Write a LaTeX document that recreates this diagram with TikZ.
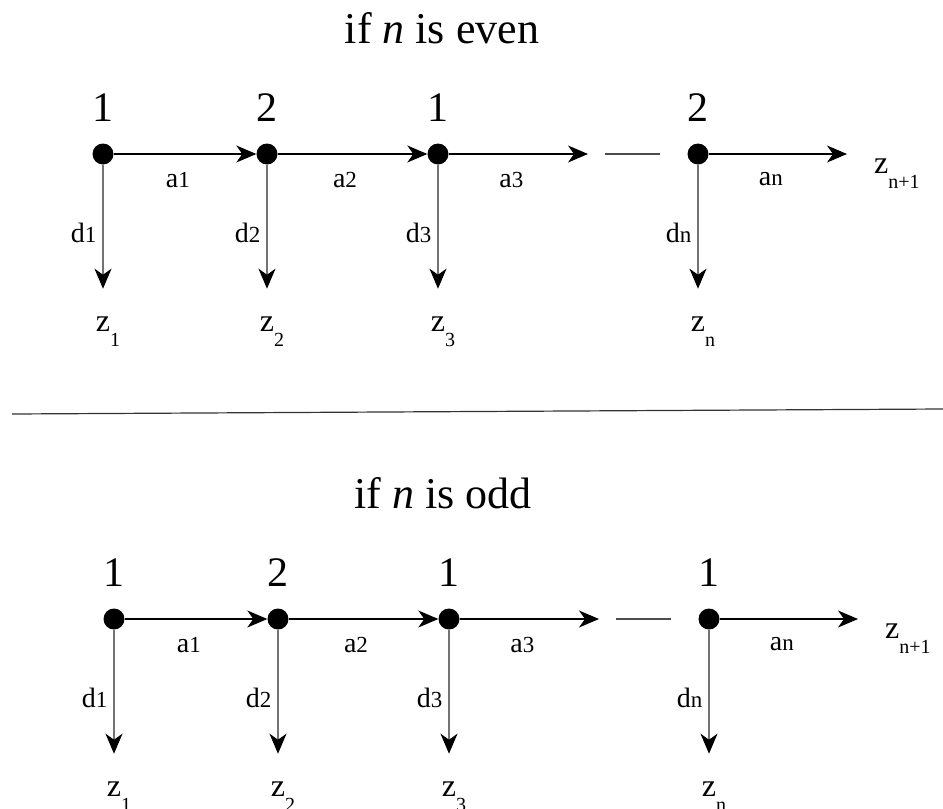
\documentclass[tikz,border=0pt]{standalone}
\usepackage{fontspec}
\setmainfont{Liberation Serif}
\usetikzlibrary{positioning, quotes, arrows.meta}
\newcommand{\idx}[1]{{\fontsize{23}{23}\selectfont #1}}
\newcommand{\zsub}[1]{z\rlap{\raisebox{-15pt}{\fontsize{20}{20}\selectfont #1}}}
\tikzset{
  x = 1pt, y = -1pt,
  > = {Stealth[length = 20pt, width = 17pt, inset = 6pt]},
  every edge quotes/.style = {inner sep = 0pt, font = \fontsize{28}{28}\selectfont},
  state/.style = {circle, fill, inner sep = 0pt, minimum size = 21pt},
  player/.style = {inner sep = 0pt, font = \fontsize{42}{42}\selectfont},
  heading/.style = {inner sep = 0pt, anchor = base, font = \fontsize{44}{44}\selectfont},
  outcome/.style = {inner sep = 0pt, font = \fontsize{32}{32}\selectfont},
  move/.style = {->, line width = 1.1pt},
  quit/.style = {-{Stealth[length = 20pt, width = 17pt, inset = 6pt, color = black]},
    draw = black!55, line width = 1.1pt, shorten > = 28pt},
  under/.style = {below = 18pt, pos = 0.45},   % label under a move
  beside/.style = {left = 6pt, pos = 0.45},    % label left of a stop
  ellipsis/.style = {draw = black!70, line width = 1.1pt},
  rule/.style = {draw = black!80, line width = 1.2pt}
}

\begin{document}
\begin{tikzpicture}
\useasboundingbox (0,0) rectangle (943,809);

\foreach \parity/\last/\row/\dx/\dy/\tx in {even/2/1/0/0/442, odd/1/2/11/465/432} {
\begin{scope}[shift = {(\dx, \dy)}]

  %% Heading
  \node [heading] (head\row) at (\tx, 43) {if \textit{n} is \parity};

  %% Decision points
  \foreach \x/\p [count = \i] in {103/1, 267/2, 438/1, 698/\last} {
    \node [state] (v\row\i) at (\x, 154) {};
    \node [player] (pl\row\i) [above = 22pt of v\row\i] {\p};
  }

  %% Stops
  \foreach \s [count = \i] in {1, 2, 3, n} {
    \node [outcome] (z\row\i) [below = 152pt of v\row\i] {\zsub{\s}};
    \path [quit] (v\row\i) edge ["d\idx{\s}" beside] (z\row\i);
  }

  %% Moves
  \foreach \i/\j in {1/2, 2/3}
    \path [move] (v\row\i) edge ["a\idx{\i}" under] (v\row\j);
  \coordinate (tip\row) at (588, 154);
  \path [move] (v\row3) edge ["a\idx{3}" under] (tip\row);

  \coordinate (gapl\row) at (605, 154);
  \coordinate (gapr\row) at (660, 154);
  \draw [ellipsis] (gapl\row) -- (gapr\row);

  \coordinate (end\row) at (847, 154);
  \path [move] (v\row4) edge ["a\idx{n}" under] (end\row);
  \node [outcome, anchor = north west] (zend\row) at (874, 159) {\zsub{n+1}};

\end{scope}
}

%% Separator
\coordinate (sepl) at (12, 414);
\coordinate (sepr) at (943, 409);
\draw [rule] (sepl) -- (sepr);

\end{tikzpicture}
\end{document}
